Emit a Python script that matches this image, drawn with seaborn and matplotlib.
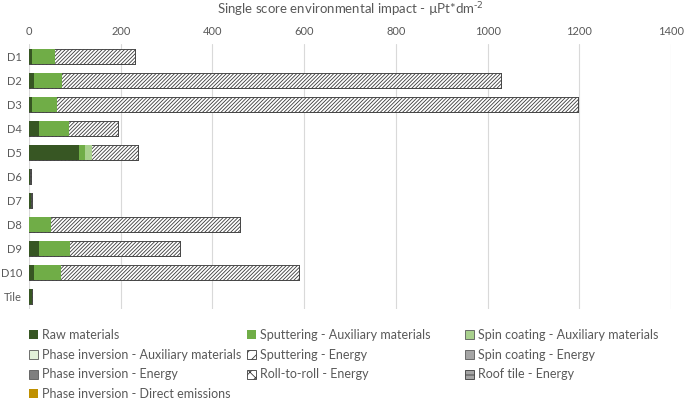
import numpy as np
import pandas as pd
import seaborn as sns
import matplotlib.pyplot as plt
from matplotlib.patches import Patch

# Daten
devices = ["D1", "D2", "D3", "D4", "D5", "D6", "D7", "D8", "D9", "D10", "Tile"]
raw_materials = [6, 11, 6, 22, 110, 2.5, 4.5, 0.5, 22, 11, 6]
sputtering_aux = [51, 61, 55, 65, 12, 0, 0, 48, 67, 59, 0]
spin_coating_aux = [0, 0, 0, 0, 16, 0, 0, 0, 0, 0, 0]
phase_inversion_aux = [0, 0, 0, 0, 0, 0.5, 0.5, 0, 0, 0, 0]
sputtering_energy = [175, 958, 1136, 108, 100, 0, 0, 412, 241, 518, 0]
spin_coating_energy = [0, 0, 0, 0, 0.5, 0, 0, 0, 0, 0, 0]
phase_inversion_energy = [0, 0, 0, 0, 0, 0.5, 0.5, 0, 0, 0, 0]
roll_to_roll_energy = [0, 0, 0, 0, 0, 0, 0, 0, 0, 0, 0]
roof_tile_energy = [0, 0, 0, 0, 0, 0, 0, 0, 0, 0, 1.5]
phase_inversion_direct = [0, 0, 0, 0, 0, 2.5, 1, 0, 0, 0, 0]

# (Label, Werte, Farbe, Schraffur)
komponenten = [
    ("Raw materials", raw_materials, "#375623", None),
    ("Sputtering - Auxiliary materials", sputtering_aux, "#70AD47", None),
    ("Spin coating - Auxiliary materials", spin_coating_aux, "#A9D18E", None),
    ("Phase inversion - Auxiliary materials", phase_inversion_aux, "#E2F0D9", None),
    ("Sputtering - Energy", sputtering_energy, "white", "/////////"),
    ("Spin coating - Energy", spin_coating_energy, "#A5A5A5", None),
    ("Phase inversion - Energy", phase_inversion_energy, "#7F7F7F", None),
    ("Roll-to-roll - Energy", roll_to_roll_energy, "white", "xxxx"),
    ("Roof tile - Energy", roof_tile_energy, "#A5A5A5", "----"),
    ("Phase inversion - Direct emissions", phase_inversion_direct, "#BF9000", None),
]

df = pd.DataFrame({name: vals for name, vals, _, _ in komponenten}, index=devices)
kumuliert = df.cumsum(axis=1)

sns.set_theme(style="white")
plt.rcParams["font.family"] = ["Lato", "DejaVu Sans"]
plt.rcParams["mathtext.default"] = "regular"
plt.rcParams["hatch.linewidth"] = 0.6
textfarbe = "#595959"

fig = plt.figure(figsize=(6.85, 3.99), dpi=100)
ax = fig.add_axes([29 / 685, 1 - 309 / 399, 642 / 685, 265 / 399])

# Gestapelte Balken: von hinten (Summe) nach vorne zeichnen
for i in range(len(komponenten) - 1, -1, -1):
    name, _, farbe, hatch = komponenten[i]
    werte = kumuliert.iloc[:, i].values
    kw = dict(color=farbe, saturation=1, width=0.62, errorbar=None,
              order=devices, orient="h", ax=ax)
    if hatch:
        sns.barplot(x=werte, y=devices, hatch=hatch, edgecolor="#3a3a3a",
                    linewidth=0.6, **kw)
    else:
        sns.barplot(x=werte, y=devices, linewidth=0, **kw)

ax.set_xlim(0, 1400)
ax.set_xticks(range(0, 1401, 200))
ax.xaxis.tick_top()
ax.grid(axis="x", color="#D9D9D9", linewidth=0.8)
ax.set_axisbelow(True)
ax.tick_params(length=0, labelsize=8, colors=textfarbe, pad=5)
ax.tick_params(axis="x", pad=5)
for s in ax.spines.values():
    s.set_visible(False)
ax.set_xlabel("")
ax.set_ylabel("")

fig.text(350 / 685, 1 - 10 / 399,
         r"Single score environmental impact - µPt*dm$^{\text{-2}}$",
         ha="center", va="center", fontsize=9.5, color=textfarbe)

# Legende: drei Spalten wie im Original
spalten = [[0, 3, 6, 9], [1, 4, 7], [2, 5, 8]]
spalten_x = [29, 247, 465]
for idx, x0 in zip(spalten, spalten_x):
    handles = []
    for j in idx:
        name, _, farbe, hatch = komponenten[j]
        if hatch:
            handles.append(Patch(facecolor=farbe, edgecolor="#3a3a3a",
                                 hatch=hatch[:3], linewidth=0.6, label=name))
        elif farbe in ("#E2F0D9", "#A9D18E", "#A5A5A5", "#7F7F7F"):
            handles.append(Patch(facecolor=farbe, edgecolor="#595959",
                                 linewidth=0.6, label=name))
        else:
            handles.append(Patch(facecolor=farbe, edgecolor="none", label=name))
    leg = fig.legend(handles=handles, ncol=1, loc="upper left",
                     bbox_to_anchor=(x0 / 685, 1 - 329 / 399), frameon=False,
                     fontsize=9, handlelength=0.75, handleheight=0.75,
                     handletextpad=0.3, labelspacing=0.62,
                     borderaxespad=0, borderpad=0)
    for t in leg.get_texts():
        t.set_color(textfarbe)

plt.savefig("out.png", dpi=100)
plt.close()
